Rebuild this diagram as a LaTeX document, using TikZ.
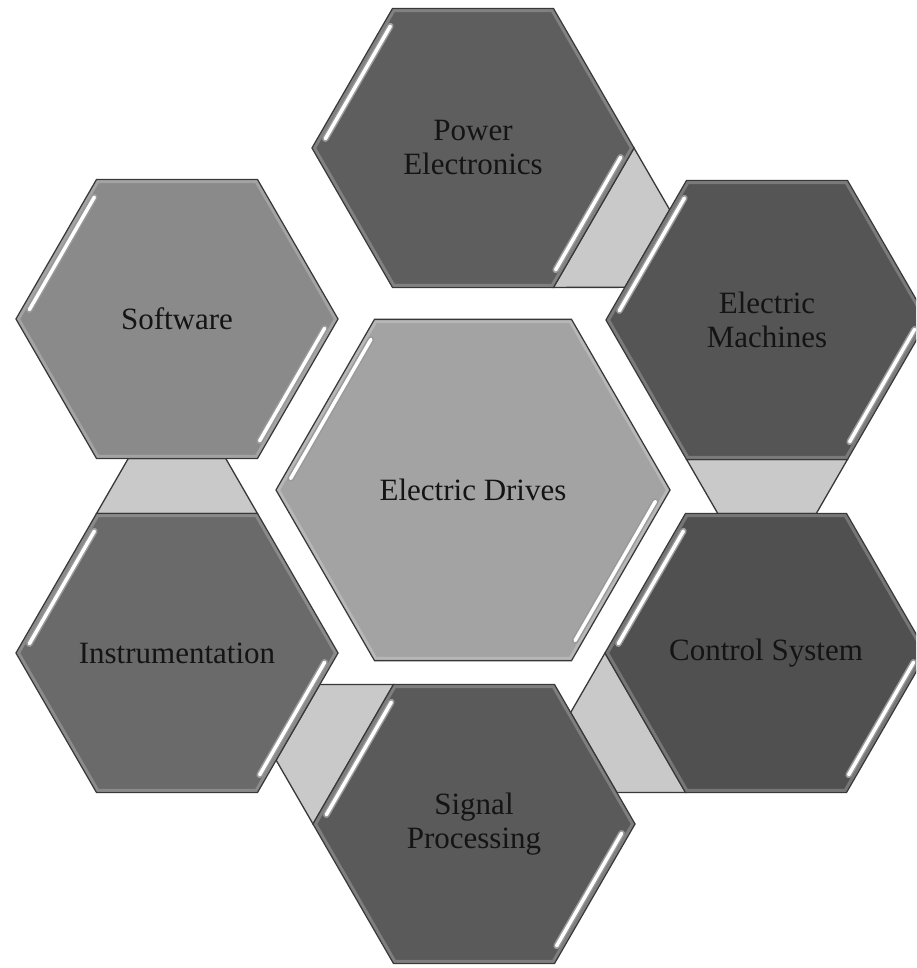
\documentclass[tikz,border=0pt]{standalone}
\usepackage{fontspec}
\setmainfont{Liberation Serif}
\usetikzlibrary{shapes.geometric,calc}
\pgfdeclarelayer{background}
\pgfsetlayers{background,main}
\definecolor{hexline}{HTML}{383838}
\definecolor{linkfill}{HTML}{C9C9C9}
\definecolor{hlgray}{HTML}{9A9A9A}
\definecolor{txt}{HTML}{141414}
\definecolor{cPE}{HTML}{5E5E5E}
\definecolor{cEM}{HTML}{555555}
\definecolor{cCS}{HTML}{505050}
\definecolor{cSP}{HTML}{5A5A5A}
\definecolor{cIN}{HTML}{6A6A6A}
\definecolor{cSW}{HTML}{8A8A8A}
\definecolor{cED}{HTML}{A3A3A3}
\begin{document}
\begin{tikzpicture}[x=1pt,y=1pt,
  hexa/.style={regular polygon, regular polygon sides=6, minimum size=322pt,
    inner sep=0pt, outer sep=0pt, draw=hexline, line width=1.3pt,
    text=txt, font=\fontsize{31}{34}\selectfont, align=center},
  link/.style={fill=linkfill, draw=hexline, line width=1.3pt, line join=miter},
  bevel/.style={draw=white, draw opacity=0.22, line width=3pt, line join=miter},
  hlo/.style={line width=6.5pt, draw=hlgray, line cap=round},
  hli/.style={line width=3.5pt, draw=white, line cap=round}]
\useasboundingbox (0,0) rectangle (916,968);
\clip (0,0) rectangle (916,968);
% hexagons
\node[hexa, fill=cPE] (pe) at (473,820) {Power\\Electronics};
\node[hexa, fill=cEM] (em) at (767,648) {Electric\\Machines};
\node[hexa, fill=cCS] (cs) at (766,315) {Control System};
\node[hexa, fill=cSP] (sp) at (474,144) {Signal\\Processing};
\node[hexa, fill=cIN] (in) at (177,315) {Instrumentation};
\node[hexa, fill=cSW] (sw) at (177,649) {Software};
\node[hexa, minimum size=394pt, fill=cED] (ed) at (473,478) {Electric Drives};
% connectors
\begin{pgfonlayer}{background}
\fill[white] (0,0) rectangle (916,968);
\draw[link] (pe.0) -- (intersection of pe.60--pe.0 and em.180--em.120)
  -- (intersection of pe.240--pe.300 and em.180--em.120) -- (pe.300) -- cycle;
\draw[link] (em.240) -- (intersection of em.180--em.240 and cs.120--cs.60)
  -- (intersection of em.0--em.300 and cs.120--cs.60) -- (em.300) -- cycle;
\draw[link] (cs.180) -- (intersection of cs.120--cs.180 and sp.60--sp.0)
  -- (intersection of cs.300--cs.240 and sp.60--sp.0) -- (cs.240) -- cycle;
\draw[link] (sp.120) -- (intersection of sp.60--sp.120 and in.300--in.0)
  -- (intersection of sp.240--sp.180 and in.300--in.0) -- (sp.180) -- cycle;
\draw[link] (in.120) -- (intersection of in.180--in.120 and sw.240--sw.300)
  -- (intersection of in.0--in.60 and sw.240--sw.300) -- (in.60) -- cycle;
\end{pgfonlayer}
% bevel and highlights
\foreach \n/\r/\b in {pe/153/158.5,em/153/158.5,cs/153/158.5,sp/153/158.5,in/153/158.5,sw/153/158.5,ed/189/194.5}{
  \draw[bevel] ($(\n.center)+(0:\b)$) -- ($(\n.center)+(60:\b)$)
    -- ($(\n.center)+(120:\b)$) -- ($(\n.center)+(180:\b)$)
    -- ($(\n.center)+(240:\b)$) -- ($(\n.center)+(300:\b)$) -- cycle;
  \path ($(\n.center)+(180:\r)$) coordinate (a)
        ($(\n.center)+(120:\r)$) coordinate (b)
        ($(\n.center)+(0:\r)$) coordinate (c)
        ($(\n.center)+(300:\r)$) coordinate (d);
  \draw[hlo] ($(a)!0.07!(b)$) -- ($(a)!0.92!(b)$);
  \draw[hli] ($(a)!0.07!(b)$) -- ($(a)!0.92!(b)$);
  \draw[hlo] ($(c)!0.07!(d)$) -- ($(c)!0.92!(d)$);
  \draw[hli] ($(c)!0.07!(d)$) -- ($(c)!0.92!(d)$);
}
\end{tikzpicture}
\end{document}
